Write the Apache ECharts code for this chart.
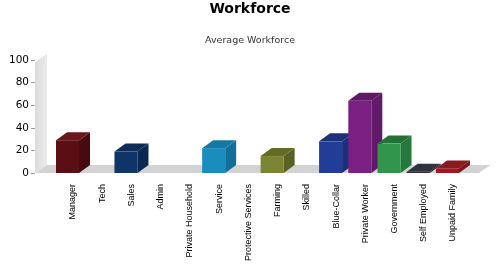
<!DOCTYPE html>
<html><head><meta charset="utf-8">
<script src="https://cdn.jsdelivr.net/npm/echarts@6/dist/echarts.min.js"></script>
<style>html,body{margin:0;padding:0;background:#fff}#c{width:500px;height:280px}</style>
</head><body><div id="c"></div>
<script>
var categories = ['Manager','Tech','Sales','Admin','Private Household','Service','Protective Services','Farming','Skilled','Blue-Collar','Private Worker','Government','Self Employed','Unpaid Family'];
var values = [29, 0, 19, 0, 0, 22, 0, 15, 0, 28, 64, 26, 1, 4];
var yTicks = [0, 20, 40, 60, 80, 100];
var frontColors = ['#5a0f14','#888888','#0f3468','#888888','#888888','#1a8dbf','#888888','#7b8431','#888888','#223d97','#7a2083','#30954a','#272935','#a01922'];
var topColors   = ['#6a1519','#888888','#0f2c56','#888888','#888888','#1677a2','#888888','#636b26','#888888','#1c3276','#5f1766','#247037','#30333f','#8a1a20'];
var sideColors  = ['#470b0f','#888888','#0c2850','#888888','#888888','#146f98','#888888','#5a6223','#888888','#1a307c','#62196a','#237a3b','#1e2029','#7d141a'];

var DX = 11, DY = 8;
var chart = echarts.init(document.getElementById('c'), null, {renderer:'canvas'});
chart.setOption({
  animation: false,
  title: [
    {text:'Workforce', left:'center', top:2, padding:0, textStyle:{fontFamily:'DejaVu Sans', fontWeight:'bold', fontSize:14, color:'#000'}},
    {text:'Average Workforce', left:'center', top:36, padding:0, textStyle:{fontFamily:'DejaVu Sans', fontWeight:'normal', fontSize:9.5, color:'#333'}}
  ],
  grid: {left:58.4, right:32.4, top:60, bottom:107},
  xAxis: {
    type:'category', data:categories,
    axisLine:{show:false}, axisTick:{show:false}, splitLine:{show:false},
    axisLabel:{rotate:90, interval:0, margin:11, fontFamily:'Liberation Sans', fontSize:9, color:'#000'}
  },
  yAxis: {
    type:'value', min:yTicks[0], max:yTicks[yTicks.length-1], interval:20, offset:23.4,
    axisLine:{show:false}, splitLine:{show:false},
    axisTick:{show:true, length:4, lineStyle:{color:'#999'}},
    axisLabel:{margin:6, fontFamily:'DejaVu Sans', fontSize:10.5, color:'#000'}
  },
  series: [
    {
      type:'custom', z:1, silent:true,
      data:[[0]],
      renderItem:function(params, api){
        var cs = params.coordSys;
        var y0 = api.coord([0, 0])[1];
        var y100 = api.coord([0, 100])[1];
        var xl = cs.x - 23.4;
        var xr = cs.x + cs.width + 11;
        return {type:'group', children:[
          {type:'polygon', shape:{points:[[xl,y0],[xl,y100+2],[xl+12,y100-6],[xl+12,y0-DY]]},
           style:{fill:new echarts.graphic.LinearGradient(0,0,1,0,[{offset:0,color:'#dcdcdc'},{offset:1,color:'#ebebeb'}])}},
          {type:'polygon', shape:{points:[[xl,y0],[xr,y0],[xr+DX+1,y0-DY],[xl+12,y0-DY]]},
           style:{fill:'#d3d3d3'}}
        ]};
      }
    },
    {
      type:'custom', z:2, silent:true,
      data: values.map(function(v,i){return [i, v];}),
      renderItem:function(params, api){
        var i = api.value(0), v = api.value(1);
        if (!v) return null;
        var p0 = api.coord([i, 0]);
        var p1 = api.coord([i, v]);
        var cx = p0[0], y0 = p0[1], yv = p1[1];
        var L = cx - 17, R = cx + 6;
        return {type:'group', children:[
          {type:'polygon', shape:{points:[[R,yv],[R+DX,yv-DY],[R+DX,y0-DY],[R,y0]]}, style:{fill:sideColors[i]}},
          {type:'polygon', shape:{points:[[L,yv],[R,yv],[R+DX,yv-DY],[L+DX,yv-DY]]}, style:{fill:topColors[i]}},
          {type:'rect', shape:{x:L, y:yv, width:R-L, height:y0-yv}, style:{fill:frontColors[i]}}
        ]};
      }
    }
  ]
});
</script></body></html>
